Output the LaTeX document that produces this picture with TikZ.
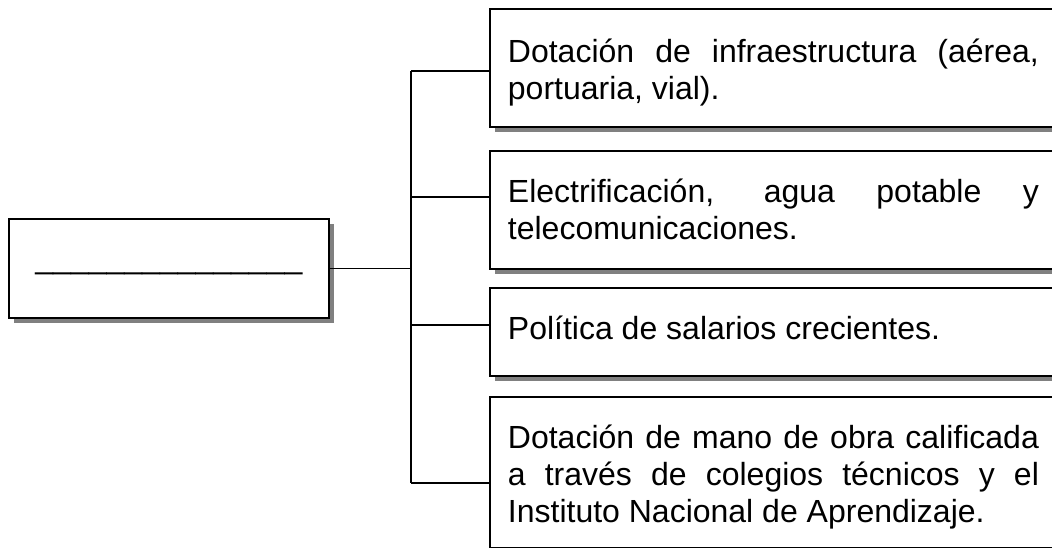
\documentclass[tikz,border=0pt]{standalone}
\usepackage{fontspec}
\setmainfont{Liberation Sans}
\usetikzlibrary{shadows}
\hyphenpenalty=10000
\exhyphenpenalty=10000

\begin{document}
\begin{tikzpicture}[
    x = 0.75pt, y = -0.75pt,
    marco/.style = {rectangle, draw, line width=1.4pt, fill=white,
      drop shadow={shadow xshift=3.75pt, shadow yshift=-3.75pt, fill=black!50, opacity=1},
      anchor=north west, inner sep=0pt},
    caja/.style = {marco, inner xsep=13.5pt, text width=398.25pt, align=justify, text height=39pt},
    raiz/.style = {marco, inner xsep=0pt, minimum width=240pt, text height=37.125pt, text depth=37.125pt},
    linea/.style = {black, line width=1.3pt},
    font=\fontsize{24}{27.6}\selectfont
    ]

  \useasboundingbox (0,0) rectangle (1052,548) ;
  \clip (0,0) rectangle (1052,548) ;

  \node[raiz] (tema) at (8,218) {\_\_\_\_\_\_\_\_\_\_\_\_\_\_\_} ;

  \node[caja, text height=40.5pt, text depth=48pt] (d1) at (489,8)
    {Dotación de infraestructura (aérea,\linebreak portuaria, vial).} ;
  \node[caja, text depth=49.5pt] (d2) at (489,150)
    {Electrificación, agua potable y\linebreak telecomunicaciones.} ;
  \node[caja, text depth=27pt] (d3) at (489,287)
    {Política de salarios crecientes.} ;
  \node[caja, text depth=74.25pt] (d4) at (489,396)
    {Dotación de mano de obra calificada\linebreak a través de colegios técnicos y el\linebreak Instituto Nacional de Aprendizaje.} ;

  % puntos del tronco
  \coordinate (j1) at (411,71) ;
  \coordinate (j2) at (411,197) ;
  \coordinate (j3) at (411,325) ;
  \coordinate (j4) at (411,483) ;

  \draw[linea]
  (tema.east) -- (tema.east -| j1)
  (j1) -- (j4)
  (j1) -- (j1 -| d1.west)
  (j2) -- (j2 -| d2.west)
  (j3) -- (j3 -| d3.west)
  (j4) -- (j4 -| d4.west) ;
\end{tikzpicture}
\end{document}
